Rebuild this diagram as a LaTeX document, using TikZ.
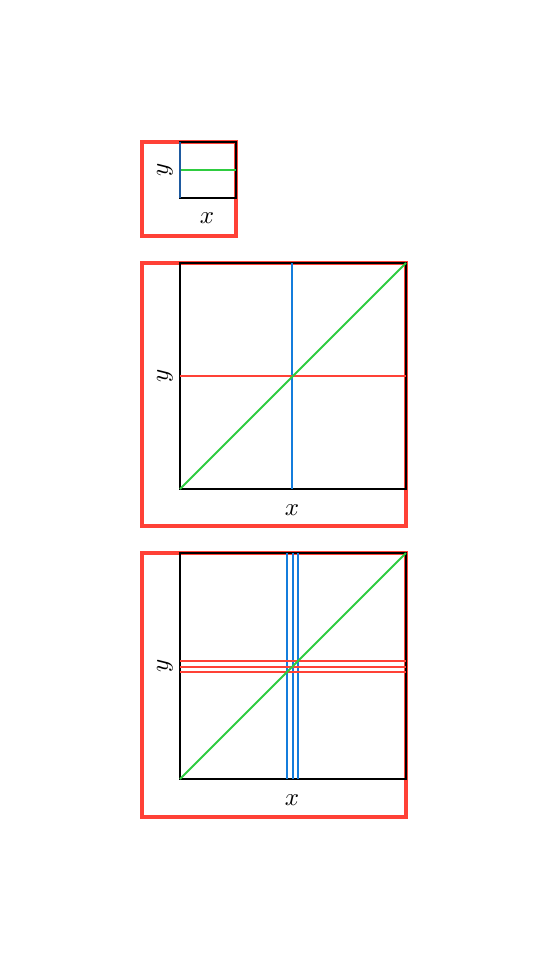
\documentclass[tikz,border=0pt]{standalone}
\begin{document}
\begin{tikzpicture}[x=0.4pt,y=-0.4pt,
  frame/.style={draw=redc,line width=1.6pt},
  sq/.style={draw=black,line width=0.8pt},
  bl/.style={draw=bluec,line width=0.8pt},
  rd/.style={draw=redc,line width=0.8pt},
  gr/.style={draw=greenc,line width=0.8pt},
  lab/.style={inner sep=0pt,font=\normalsize}]
\definecolor{redc}{RGB}{255,65,54}
\definecolor{bluec}{RGB}{20,125,220}
\definecolor{greenc}{RGB}{46,204,64}
\definecolor{darkblue}{RGB}{30,90,160}
\useasboundingbox (0,0) rectangle (548,960);
% small panel
\draw[frame] (142,142) rectangle (236,236);
\draw[sq] (180,142) rectangle (236,198);
\draw[gr] (180,170) -- (236,170);
\draw[draw=darkblue,line width=1.1pt] (180,142) -- (180,198);
\node[lab,rotate=90] (y1) at (165,170) {$y$};
\node[lab] (x1) at (207,218) {$x$};
% middle panel
\draw[frame] (142,263) rectangle (406,526);
\draw[sq] (180,263) rectangle (406,489);
\draw[bl] (292,263) -- (292,489);
\draw[rd] (180,376) -- (406,376);
\draw[gr] (180,489) -- (406,263);
\node[lab,rotate=90] (y2) at (165,376) {$y$};
\node[lab] (x2) at (292,510) {$x$};
% bottom panel
\draw[frame] (142,553) rectangle (406,817);
\draw[sq] (180,553) rectangle (406,779);
\foreach \xx in {287,292.5,298} \draw[bl] (\xx,553) -- (\xx,779);
\foreach \yy in {661,667,672} \draw[rd] (180,\yy) -- (406,\yy);
\draw[gr] (180,779) -- (406,553);
\node[lab,rotate=90] (y3) at (165,666) {$y$};
\node[lab] (x3) at (292,800) {$x$};
\end{tikzpicture}
\end{document}
